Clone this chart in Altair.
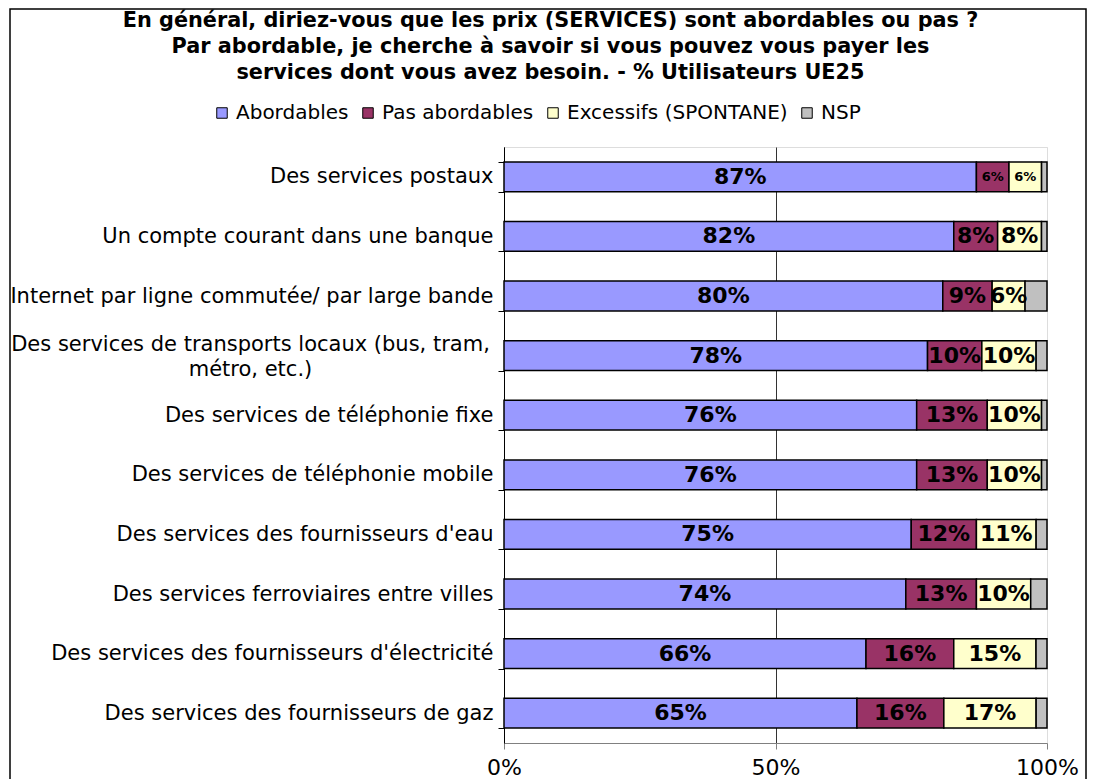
import altair as alt
import pandas as pd

categories = [
    "Des services postaux",
    "Un compte courant dans une banque",
    "Internet par ligne commutée/ par large bande",
    "Des services de transports locaux (bus, tram, métro, etc.)",
    "Des services de téléphonie fixe",
    "Des services de téléphonie mobile",
    "Des services des fournisseurs d'eau",
    "Des services ferroviaires entre villes",
    "Des services des fournisseurs d'électricité",
    "Des services des fournisseurs de gaz",
]
series = ["Abordables", "Pas abordables", "Excessifs (SPONTANE)", "NSP"]
abordables = [87, 82, 80, 78, 76, 76, 75, 74, 66, 65]
pas_abordables = [6, 8, 9, 10, 13, 13, 12, 13, 16, 16]
excessifs = [6, 8, 6, 10, 10, 10, 11, 10, 15, 17]
nsp = [1, 1, 4, 2, 1, 1, 2, 3, 2, 2]
colors = ["#9999FF", "#993366", "#FFFFCC", "#C0C0C0"]

rows = []
for i, c in enumerate(categories):
    for j, (s, vals) in enumerate(zip(series, [abordables, pas_abordables, excessifs, nsp])):
        rows.append({"cat": c, "series": s, "value": vals[i], "order": j})
df = pd.DataFrame(rows)

FONT = "DejaVu Sans"
W, H = 543, 596
TRANSPORT = categories[3]
is_transport = "datum.value == \"" + TRANSPORT + "\""
label_expr = (
    "datum.label == \"" + TRANSPORT + "\" ? "
    "['Des services de transports locaux (bus, tram,', 'métro, etc.)'] : datum.label"
)

base = alt.Chart(df).transform_stack(
    stack="value", groupby=["cat"], sort=[alt.SortField("order")],
    as_=["v0", "v1"], offset="normalize",
)

y_enc = alt.Y(
    "cat:N", sort=categories, title=None,
    scale=alt.Scale(paddingInner=0.5, paddingOuter=0.25),
    axis=alt.Axis(
        tickBand="extent", domainColor="#000000", tickColor="#000000",
        tickSize=6, labelFont=FONT, labelFontSize=21,
        labelColor="#000000", labelLimit=700, labelLineHeight=25,
        labelExpr=label_expr,
        labelPadding=alt.condition(is_transport, alt.value(248), alt.value(5)),
        labelAlign=alt.condition(is_transport, alt.value("center"), alt.value("right")),
        labelOffset=alt.condition(is_transport, alt.value(-11), alt.value(0)),
    ),
)

bars = base.mark_bar(stroke="#000000", strokeWidth=1.5).encode(
    x=alt.X(
        "v0:Q", title=None,
        scale=alt.Scale(domain=[0, 1], nice=False),
        axis=alt.Axis(
            values=[0, 0.5, 1], format=".0%", grid=True,
            gridColor=alt.condition("datum.value == 1", alt.value("#dddddd"), alt.value("#333333")),
            domainColor="#808080", tickColor="#808080", tickSize=6,
            labelPadding=8, labelFont=FONT, labelFontSize=22, labelColor="#000000",
            labelFlush=False,
        ),
    ),
    x2="v1:Q",
    y=y_enc,
    color=alt.Color(
        "series:N",
        scale=alt.Scale(domain=series, range=colors),
        legend=alt.Legend(
            title=None, orient="none", direction="horizontal",
            legendX=-292, legendY=-44, symbolType="square", symbolSize=110,
            symbolStrokeColor="#000000", symbolStrokeWidth=1, labelFont=FONT,
            labelFontSize=20, labelColor="#000000", labelOffset=4, labelLimit=500,
            columnPadding=9, columns=4,
        ),
    ),
    order=alt.Order("order:Q"),
)

labels = base.transform_filter(
    "datum.series != 'NSP'"
).transform_calculate(
    mid="(datum.v0 + datum.v1) / 2",
    label="format(datum.value, 'd') + '%'",
).mark_text(font=FONT, fontWeight="bold", color="#000000", baseline="middle", align="center").encode(
    x=alt.X("mid:Q"),
    y=alt.Y("cat:N", sort=categories),
    text="label:N",
    size=alt.condition(
        "datum.cat == 'Des services postaux' && datum.series != 'Abordables'",
        alt.value(13), alt.value(22),
    ),
)

frame = alt.Chart(pd.DataFrame({"f": [0]})).mark_rect(
    fill=None, stroke="#000000", strokeWidth=1.5
).encode(
    x=alt.value(-494), x2=alt.value(W + 39), y=alt.value(-138), y2=alt.value(H + 60)
)

chart = alt.layer(frame, bars, labels).properties(
    width=W, height=H,
    autosize=alt.AutoSizeParams(type="none"),
    padding={"left": 496, "top": 139, "right": 41, "bottom": 36},
    title=alt.TitleParams(
        text=[
            "En général, diriez-vous que les prix (SERVICES) sont abordables ou pas ?",
            "Par abordable, je cherche à savoir si vous pouvez vous payer les",
            "services dont vous avez besoin. - % Utilisateurs UE25",
        ],
        font=FONT, fontSize=20.8, fontWeight="bold", color="#000000",
        anchor="middle", dx=-225, dy=76, lineHeight=26, offset=0,
    ),
).configure_view(stroke=None).configure(background="#ffffff")

chart.save("out.html", embed_options={"renderer": "svg", "actions": False})
